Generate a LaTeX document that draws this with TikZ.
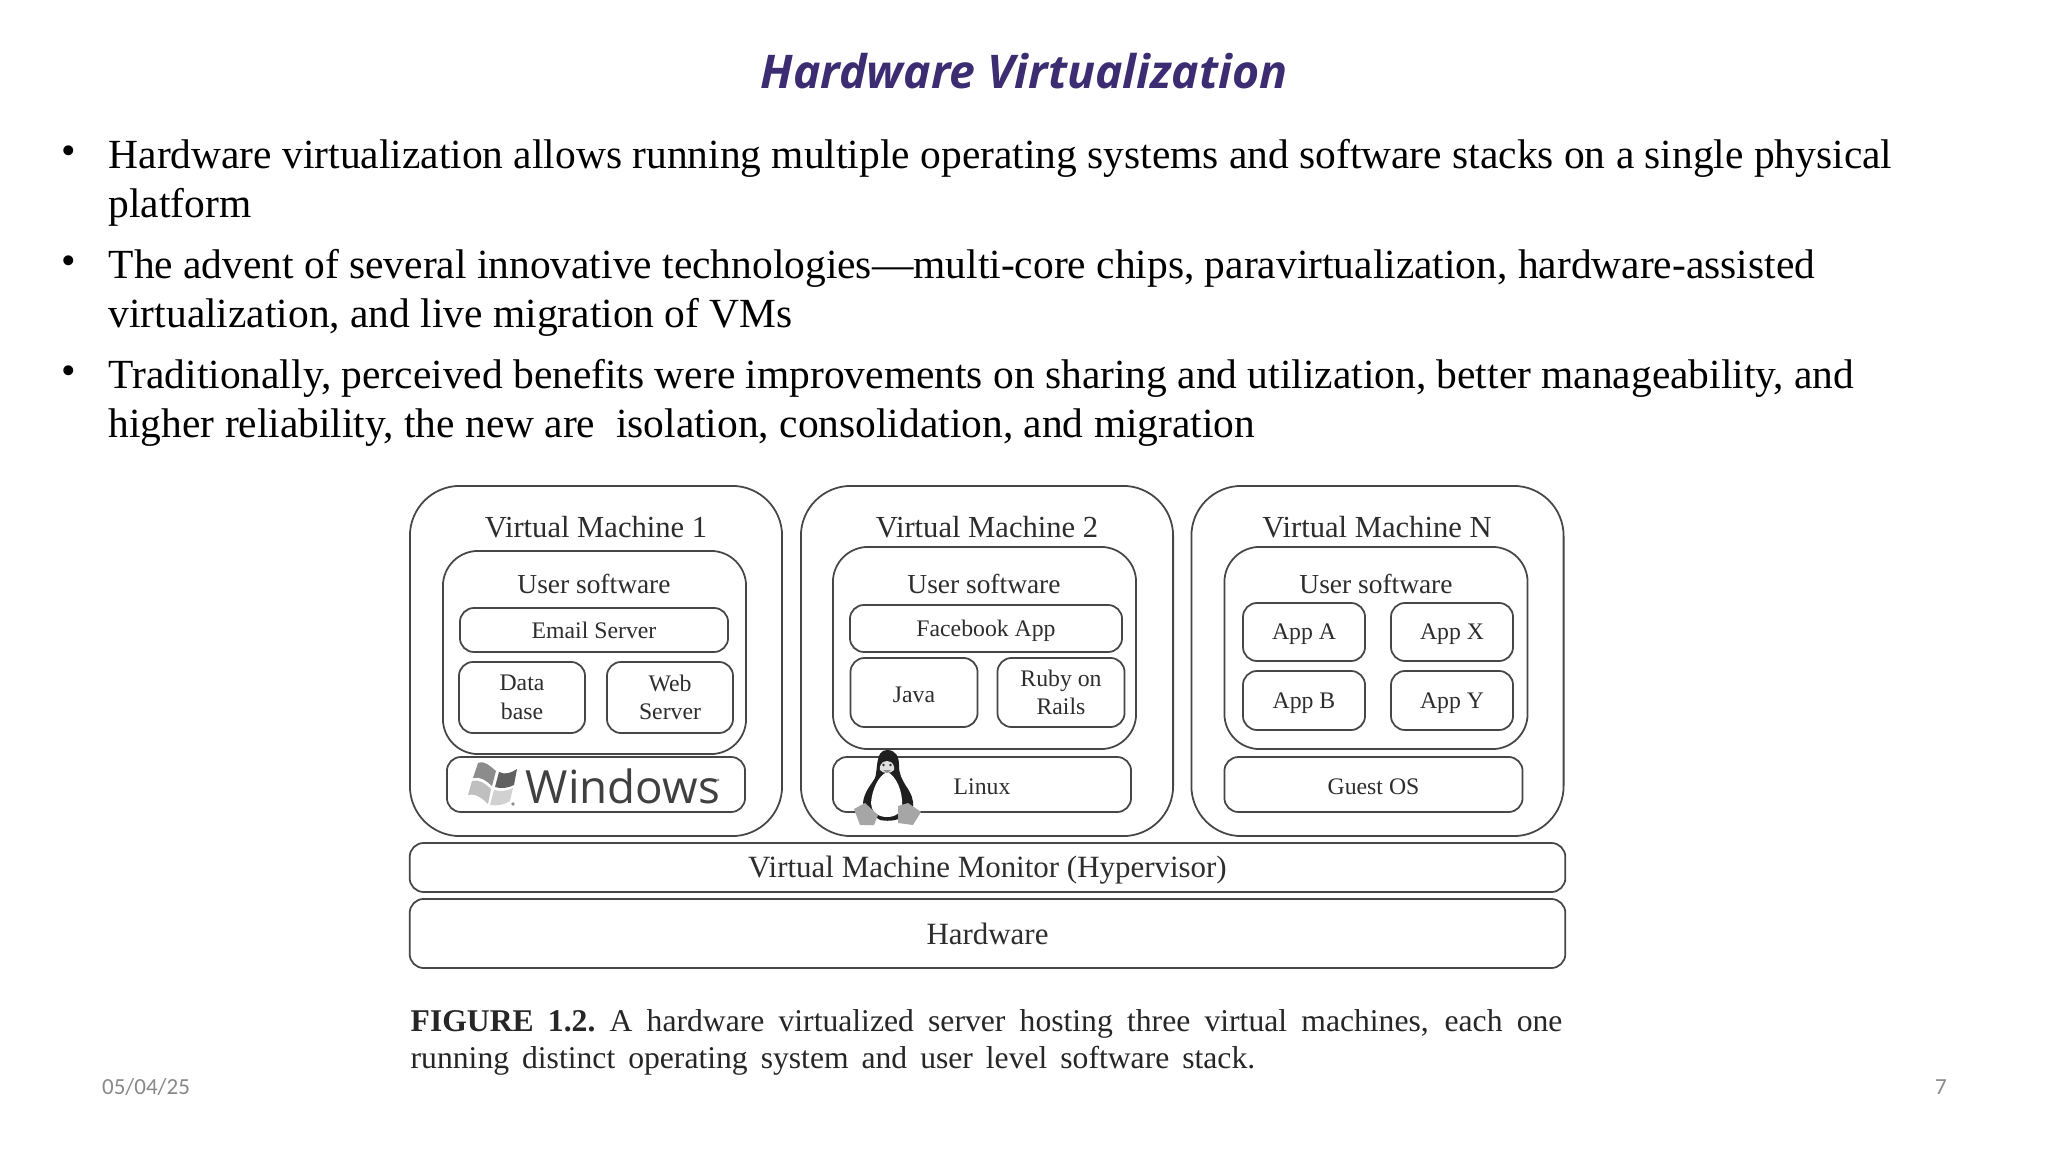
\documentclass[tikz,border=0pt]{standalone}
\usepackage{fontspec}
\setmainfont{Liberation Serif}
\newfontfamily\titlefont{Open Sans}
\newfontfamily\footfont{Carlito}
\newfontfamily\logofont{Open Sans}
\usetikzlibrary{positioning}
\definecolor{titlepurple}{RGB}{60, 45, 115}
\definecolor{inkgray}{RGB}{45, 45, 45}
\definecolor{linegray}{RGB}{70, 70, 70}
\definecolor{footgray}{RGB}{137, 137, 137}
\newcommand{\lowtxt}[1]{\raisebox{-0.7pt}[\height][\depth]{#1}}
\tikzset{
  vmbox/.style={draw=linegray, rounded corners=50pt*0.2845, minimum width=3.72cm, minimum height=3.5cm, line width=0.5pt},
  userbox/.style={draw=linegray, rounded corners=10pt, minimum width=3.03cm, line width=0.5pt},
  appbox/.style={draw=linegray, rounded corners=4pt, line width=0.5pt, align=center, text=inkgray, font=\fontsize{6.75}{8.1}\selectfont, inner sep=0pt},
  osbox/.style={appbox, minimum width=2.98cm, minimum height=0.55cm},
  layerbox/.style={appbox, minimum width=11.55cm, font=\fontsize{8.8}{10}\selectfont},
  vmlabel/.style={text=inkgray, font=\fontsize{8.7}{10}\selectfont, inner sep=0pt},
  userlabel/.style={text=inkgray, font=\fontsize{7.8}{9}\selectfont, inner sep=0pt},
  bullettext/.style={anchor=base west, inner sep=0pt, font=\fontsize{11.79}{14}\selectfont, text=black},
  captext/.style={anchor=base west, inner sep=0pt, font=\fontsize{9}{10}\selectfont, text=black!85},
  foottext/.style={inner sep=0pt, text=footgray, font=\footfont\fontsize{6.55}{7}\selectfont}
}
\begin{document}
\begin{tikzpicture}[x=0.01cm, y=-0.01cm]
  \useasboundingbox (0,0) rectangle (2048,1152);
  \fill[white] (0,0) rectangle (2048,1152);

  % Title
  \node[inner sep=0pt, text=titlepurple, font=\titlefont\bfseries\itshape\fontsize{13.2}{16}\selectfont] (title) at (1024,71) {Hardware Virtualization};

  % Bullets
  \node[bullettext] (bulA) at (61,165) {\textbullet};
  \node[bullettext] (lineA) at (108,168.5) {Hardware virtualization allows running multiple operating systems and software stacks on a single physical};
  \node[bullettext] (lineB) at (108,217.5) {platform};
  \node[bullettext] (bulB) at (61,275) {\textbullet};
  \node[bullettext] (lineC) at (108,278.5) {The advent of several innovative technologies---multi-core chips, paravirtualization, hardware-assisted};
  \node[bullettext] (lineD) at (108,327.5) {virtualization, and live migration of VMs};
  \node[bullettext] (bulC) at (61,385) {\textbullet};
  \node[bullettext] (lineE) at (108,388.5) {Traditionally, perceived benefits were improvements on sharing and utilization, better manageability, and};
  \node[bullettext] (lineF) at (108,437.5) {higher reliability, the new are\ \ isolation, consolidation, and migration};

  % Virtual machines
  \node[vmbox] (vmA) at (596,661) {};
  \node[vmbox] (vmB) at (987,661) {};
  \node[vmbox] (vmN) at (1377.5,661) {};
  \node[vmlabel] (vmAlabel) at (596,527) {Virtual Machine 1};
  \node[vmlabel] (vmBlabel) at (987,527) {Virtual Machine 2};
  \node[vmlabel] (vmNlabel) at (1377,527) {Virtual Machine N};

  % User software
  \node[userbox, minimum height=2.03cm] (userA) at (594.5,652.5) {};
  \node[userbox, minimum height=2.02cm] (userB) at (984.5,648) {};
  \node[userbox, minimum height=2.02cm] (userN) at (1376,648) {};
  \node[userlabel] (userAlabel) at (594,584) {User software};
  \node[userlabel] (userBlabel) at (984,584) {User software};
  \node[userlabel] (userNlabel) at (1376,584) {User software};

  % Apps of machine 1
  \node[appbox, minimum width=2.68cm, minimum height=0.44cm] (email) at (594,630) {Email Server};
  \node[appbox, minimum width=1.26cm, minimum height=0.71cm] (database) at (522,697.5) {Data\\base};
  \node[appbox, minimum width=1.26cm, minimum height=0.71cm] (webserver) at (670,697.5) {Web\\Server};

  % Apps of machine 2
  \node[appbox, minimum width=2.72cm, minimum height=0.47cm] (facebook) at (986,628.5) {\lowtxt{Facebook App}};
  \node[appbox, minimum width=1.27cm, minimum height=0.69cm] (java) at (914,692.5) {\lowtxt{Java}};
  \node[appbox, minimum width=1.27cm, minimum height=0.69cm] (ruby) at (1061,692.5) {Ruby on\\Rails};

  % Apps of machine N
  \node[appbox, minimum width=1.22cm, minimum height=0.58cm] (appA) at (1304,632) {\lowtxt{App A}};
  \node[appbox, minimum width=1.22cm, minimum height=0.58cm] (appX) at (1452,632) {\lowtxt{App X}};
  \node[appbox, minimum width=1.22cm, minimum height=0.59cm] (appB) at (1304,700.5) {\lowtxt{App B}};
  \node[appbox, minimum width=1.22cm, minimum height=0.59cm] (appY) at (1452,700.5) {\lowtxt{App Y}};

  % Operating systems
  \node[osbox] (winbox) at (596,784.5) {};
  \node[osbox] (linux) at (982,784.5) {\lowtxt{Linux}};
  \node[osbox] (guest) at (1373.5,784.5) {\lowtxt{Guest OS}};

  % Windows logo
  \node[inner sep=0pt, text=black!75, font=\logofont\fontsize{13}{16}\selectfont] (winlabel) at (623,786) {Windows};
  \fill[black!45] (478,763) .. controls (485,760) and (491,767) .. (496,771) -- (492,786) .. controls (487,781) and (480,776) .. (473,778) -- cycle;
  \fill[black!62] (499,772) .. controls (505,775) and (511,773) .. (517,769) -- (514,785) .. controls (508,788) and (501,789) .. (495,787) -- cycle;
  \fill[black!25] (472,781) .. controls (479,779) and (486,784) .. (491,789) -- (488,804) .. controls (483,799) and (476,793) .. (468,795) -- cycle;
  \fill[black!18] (494,790) .. controls (501,792) and (507,791) .. (513,788) -- (510,801) .. controls (504,805) and (497,806) .. (490,805) -- cycle;
  \fill[black!45] (513,804) circle (1.8);
  \fill[black!40] (718,780) circle (1.5);

  % Penguin
  \fill[black!88] (887,750) .. controls (896,750) and (899,757) .. (899,765) .. controls (899,775) and (902,779) .. (906,786) .. controls (911,793) and (914,800) .. (913,807) -- (905,815) .. controls (900,820) and (890,822) .. (880,820) -- (868,812) -- (863,803) .. controls (864,792) and (871,785) .. (875,778) .. controls (878,770) and (875,750) .. (887,750) -- cycle;
  \fill[white] (887,772) .. controls (896,775) and (903,792) .. (902,805) .. controls (902,812) and (896,817) .. (887,817) .. controls (876,817) and (871,810) .. (871,803) .. controls (872,790) and (878,776) .. (887,772) -- cycle;
  \fill[black!12] (887,761) .. controls (893,761) and (895,767) .. (894,770) .. controls (891,774) and (883,774) .. (880,770) .. controls (879,767) and (881,761) .. (887,761) -- cycle;
  \fill[black!45] (883,770) -- (891,770) -- (887,773) -- cycle;
  \fill[black!80] (883.5,765) circle (1.3);
  \fill[black!80] (890.5,765) circle (1.3);
  \fill[black!35] (854,809) -- (865,803) -- (878,815) -- (874,825) -- (860,825) -- cycle;
  \fill[black!35] (898,806) -- (908,803) -- (921,812) -- (913,825) -- (898,823) -- cycle;

  % Monitor and hardware
  \node[layerbox, minimum height=0.49cm] (monitor) at (987.5,867.5) {\lowtxt{Virtual Machine Monitor (Hypervisor)}};
  \node[layerbox, minimum height=0.69cm] (hardware) at (987.5,933.5) {Hardware};

  % Caption
  \node[captext] (capA) at (410,1031) {\hbox to 11.51cm{\textbf{FIGURE 1.2.}\ A hardware virtualized server hosting three virtual machines, each one}};
  \node[captext] (capB) at (410,1068) {\hbox to 8.44cm{running distinct operating system and user level software stack.}};

  % Footer
  \node[foottext] (date) at (146,1087) {05/04/25};
  \node[foottext] (page) at (1941,1087) {7};
\end{tikzpicture}
\end{document}
